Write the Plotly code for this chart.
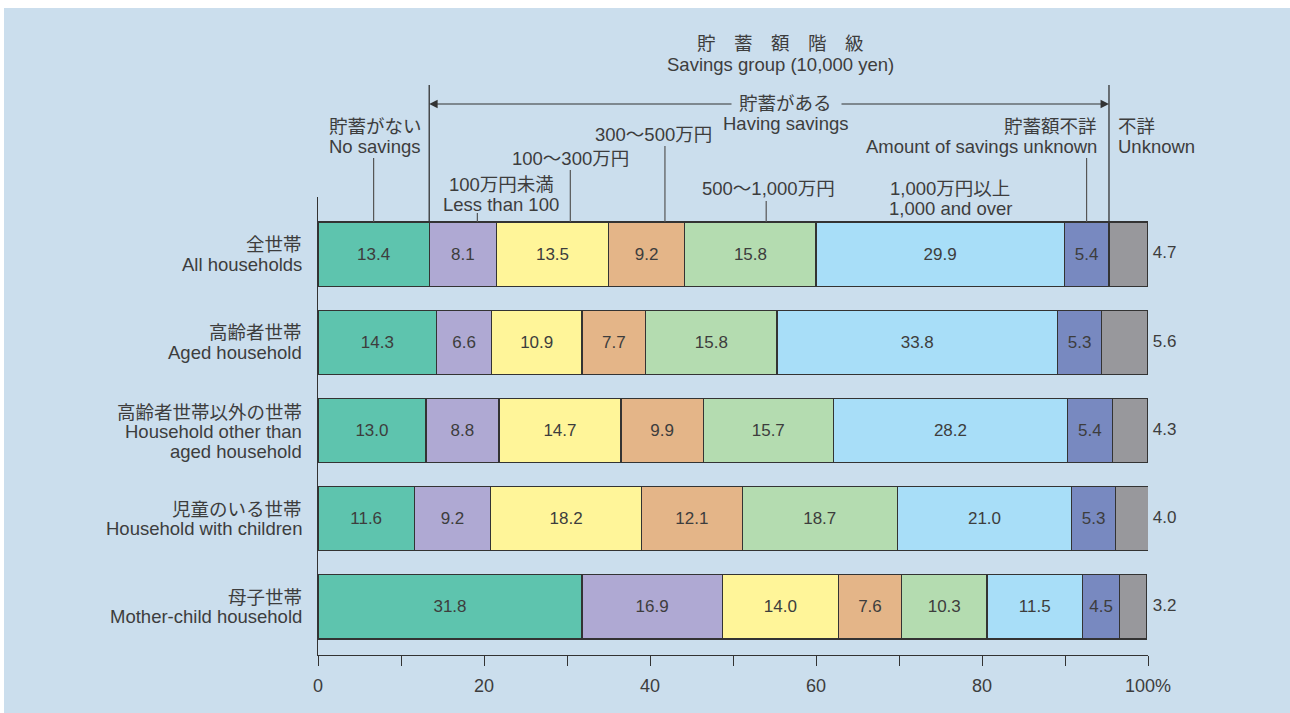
import plotly.graph_objects as go

# ---------------- data ----------------
rows_jp = ["全世帯", "高齢者世帯", "高齢者世帯以外の世帯", "児童のいる世帯", "母子世帯"]
rows_en = [["All households"], ["Aged household"], ["Household other than", "aged household"],
           ["Household with children"], ["Mother-child household"]]

groups = ["貯蓄がない", "100万円未満", "100～300万円", "300～500万円",
          "500～1,000万円", "1,000万円以上", "貯蓄額不詳", "不詳"]

no_savings   = [13.4, 14.3, 13.0, 11.6, 31.8]
less_100     = [8.1, 6.6, 8.8, 9.2, 16.9]
s100_300     = [13.5, 10.9, 14.7, 18.2, 14.0]
s300_500     = [9.2, 7.7, 9.9, 12.1, 7.6]
s500_1000    = [15.8, 15.8, 15.7, 18.7, 10.3]
s1000_over   = [29.9, 33.8, 28.2, 21.0, 11.5]
amount_unk   = [5.4, 5.3, 5.4, 5.3, 4.5]
unknown      = [4.7, 5.6, 4.3, 4.0, 3.2]

series = [no_savings, less_100, s100_300, s300_500, s500_1000, s1000_over, amount_unk, unknown]
colors = ["#5ec4ae", "#afa9d3", "#fff599", "#e4b588", "#b4dcb0", "#a8def8", "#7889c0", "#98989c"]

x_ticks = list(range(0, 101, 10))
x_ticktext = ["0", "", "20", "", "40", "", "60", "", "80", "", "100%"]

# ---------------- layout helpers (pixel -> paper) ----------------
L, R, T, B = 318, 1148, 197, 655
W, H = R - L, B - T
def px(p):
    return (p - L) / W
def py(p):
    return (B - p) / H

FONT = "Liberation Sans, Noto Sans CJK JP, sans-serif"
TXT = "#3d3d3d"
LINE = "#333333"
FS = 18.5

ypos = list(range(len(rows_jp)))
fig = go.Figure()

for i, (vals, col, name) in enumerate(zip(series, colors, groups)):
    is_last = i == len(series) - 1
    fig.add_trace(go.Bar(
        y=ypos, x=vals, orientation="h", name=name,
        marker=dict(color=col, line=dict(color=LINE, width=1.2)),
        width=64 / 88,
        text=None if is_last else [f"{v:.1f}" for v in vals],
        textposition="none" if is_last else "inside",
        insidetextanchor="middle",
        textangle=0,
        constraintext="none",
        textfont=dict(family=FONT, size=17, color=TXT),
        hoverinfo="skip",
        showlegend=False,
    ))

# outside labels for "unknown"
fig.add_trace(go.Scatter(
    x=[100] * len(unknown), y=ypos, mode="text",
    text=[f" {v:.1f}" for v in unknown], textposition="middle right",
    textfont=dict(family=FONT, size=17, color=TXT),
    cliponaxis=False, showlegend=False, hoverinfo="skip",
))

# cumulative boundaries of the first row (for the "having savings" bracket)
cum = [0]
for s in series:
    cum.append(cum[-1] + s[0])
has_start = cum[1]          # end of "no savings"
has_end = cum[7]            # end of "amount unknown"

shapes = [
    dict(type="rect", xref="paper", yref="paper", x0=px(4), x1=px(1290), y0=py(713), y1=py(8),
         fillcolor="#cbdeed", line=dict(width=0), layer="below"),
    dict(type="line", xref="x", yref="paper", x0=has_start, x1=has_start, y0=py(222), y1=py(85),
         line=dict(color=LINE, width=1.3)),
    dict(type="line", xref="x", yref="paper", x0=has_end, x1=has_end, y0=py(222), y1=py(85),
         line=dict(color=LINE, width=1.3)),
]
# leader lines: (x data, top pixel)
leaders = [(6.7, 158), (19.2, 213), (30.4, 170), (41.8, 146), (54.0, 201), (92.6, 158)]
for lx, top in leaders:
    shapes.append(dict(type="line", xref="x", yref="paper", x0=lx, x1=lx, y0=py(222), y1=py(top),
                       line=dict(color="#555555", width=1.2)))

ann = []
def text(s, x, y, xanchor="center", size=FS):
    ann.append(dict(text=s, xref="paper", yref="paper", x=px(x), y=py(y), xanchor=xanchor,
                    yanchor="middle", showarrow=False,
                    font=dict(family=FONT, size=size, color=TXT)))

text("貯　蓄　額　階　級", 780, 44)
text("Savings group (10,000 yen)", 780, 64)
text("貯蓄がある", 785, 103)
text("Having savings", 785, 124)
text("貯蓄がない", 375, 127)
text("No savings", 375, 146.5)
text("100万円未満", 501, 185)
text("Less than 100", 501, 204.5)
text("100～300万円", 570, 158)
text("300～500万円", 653, 134)
text("500～1,000万円", 768, 189)
text("1,000万円以上", 950, 189)
text("1,000 and over", 950, 208.5)
text("貯蓄額不詳", 1099, 127, xanchor="right")
text("Amount of savings unknown", 1099, 146.5, xanchor="right")
text("不詳", 1116, 127, xanchor="left")
text("Unknown", 1116, 146.5, xanchor="left")

# row labels
for r, (jp, en) in enumerate(zip(rows_jp, rows_en)):
    lines = [jp] + en
    n = len(lines)
    start = 9.5 * (n - 1) + (0 if n == 2 else -0.5)
    for k, s in enumerate(lines):
        ann.append(dict(text=s, xref="paper", yref="y", x=px(304), y=r,
                        yshift=start - 19.5 * k, xanchor="right", yanchor="middle",
                        showarrow=False, font=dict(family=FONT, size=FS, color=TXT)))

# bracket arrows
for head, tail in [(has_start, (733 - L) / W * 100), (has_end, (840 - L) / W * 100)]:
    ann.append(dict(x=head, y=py(104), xref="x", yref="paper",
                    ax=tail, ay=0, axref="x", ayref="pixel",
                    showarrow=True, arrowhead=2, arrowsize=1.4, arrowwidth=1.2,
                    arrowcolor=LINE, text=""))

fig.update_layout(
    barmode="stack",
    width=1290, height=713,
    margin=dict(l=L, r=1290 - R, t=T, b=713 - B),
    paper_bgcolor="white",
    plot_bgcolor="rgba(0,0,0,0)",
    font=dict(family=FONT, size=FS, color=TXT),
    shapes=shapes,
    annotations=ann,
    xaxis=dict(range=[0, 100], tickvals=x_ticks, ticktext=x_ticktext,
               ticks="outside", ticklen=10, tickwidth=1.2, tickcolor=LINE,
               showline=True, linecolor=LINE, linewidth=1.2,
               showgrid=False, zeroline=False, fixedrange=True,
               ticklabelstandoff=4,
               tickfont=dict(family=FONT, size=18, color=TXT)),
    yaxis=dict(range=[4 + 48 / 88, -57 / 88], tickvals=ypos, showticklabels=False,
               showline=True, linecolor=LINE, linewidth=1.2,
               showgrid=False, zeroline=False, ticks=""),
)

fig.write_html("out.html")
